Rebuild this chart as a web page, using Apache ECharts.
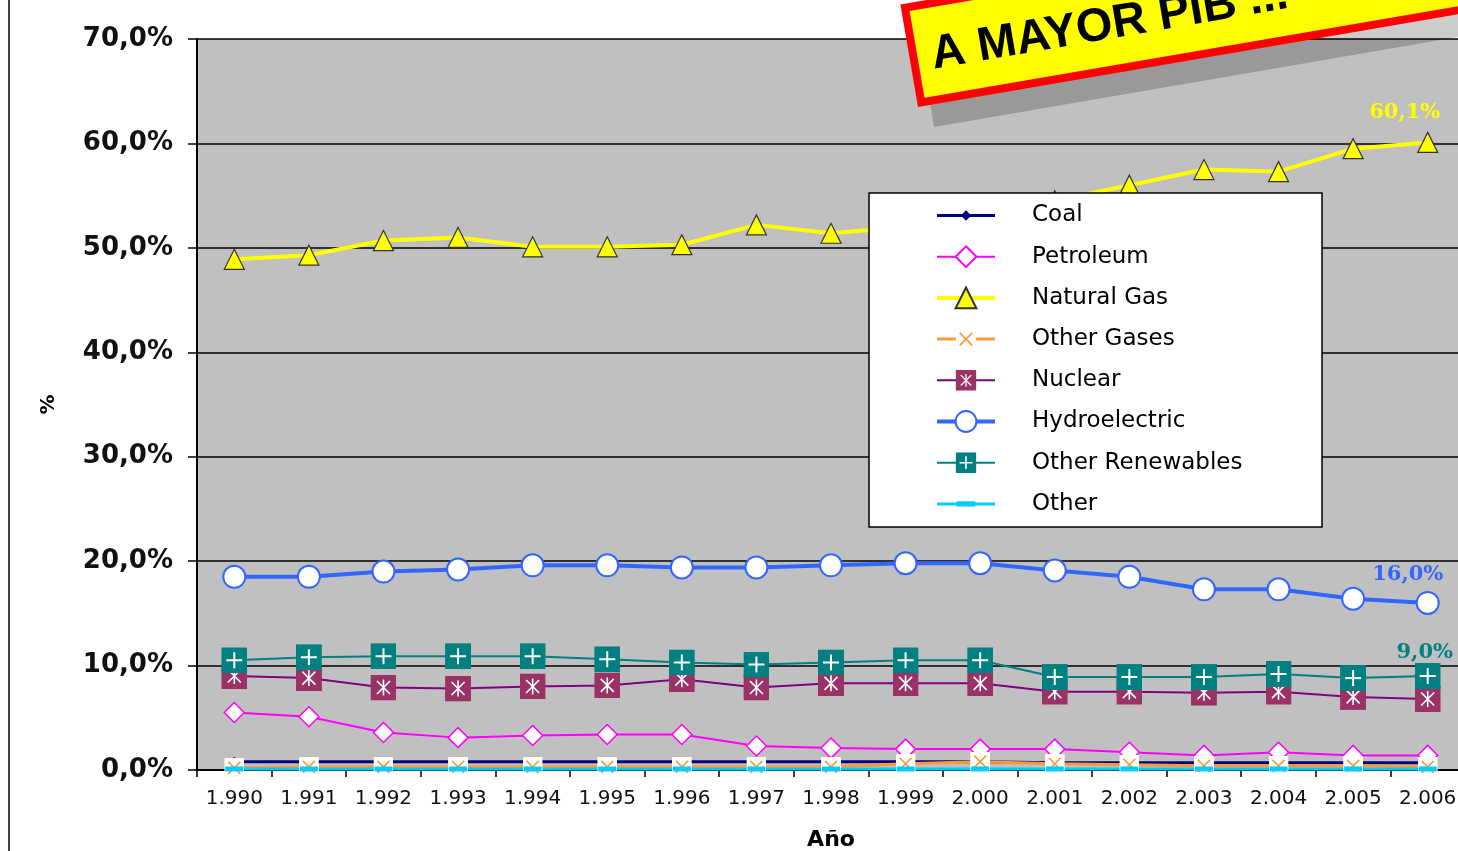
<!DOCTYPE html>
<html>
<head>
<meta charset="utf-8">
<title>Generación eléctrica por fuente</title>
<script src="https://cdn.jsdelivr.net/npm/echarts@6/dist/echarts.min.js"></script>
<style>
  html, body { margin: 0; padding: 0; background: #fff; }
  #chart { width: 1458px; height: 851px; }
</style>
</head>
<body>
<div id="chart"></div>
<script>
// categorias (años) y valores, en %
const years = ['1.990', '1.991', '1.992', '1.993', '1.994', '1.995', '1.996', '1.997', '1.998',
  '1.999', '2.000', '2.001', '2.002', '2.003', '2.004', '2.005', '2.006'];

const coal = [0.8, 0.8, 0.8, 0.8, 0.8, 0.8, 0.8, 0.8, 0.8, 0.8, 0.8, 0.7, 0.7, 0.7, 0.7, 0.7, 0.7];
const petroleum = [5.5, 5.1, 3.6, 3.1, 3.3, 3.4, 3.4, 2.3, 2.1, 2.0, 2.0, 2.0, 1.7, 1.4, 1.7, 1.4, 1.4];
const naturalGas = [48.9, 49.3, 50.7, 51.0, 50.1, 50.1, 50.3, 52.2, 51.4, 52.0, 53.5, 54.5, 56.0, 57.5, 57.3, 59.5, 60.1];
const otherGases = [0.2, 0.3, 0.3, 0.3, 0.3, 0.3, 0.3, 0.3, 0.3, 0.6, 0.8, 0.6, 0.5, 0.4, 0.4, 0.4, 0.3];
const nuclear = [9.0, 8.8, 7.9, 7.8, 8.0, 8.1, 8.7, 7.9, 8.3, 8.3, 8.3, 7.5, 7.5, 7.4, 7.5, 7.0, 6.8];
const hydroelectric = [18.5, 18.5, 19.0, 19.2, 19.6, 19.6, 19.4, 19.4, 19.6, 19.8, 19.8, 19.1, 18.5, 17.3, 17.3, 16.4, 16.0];
const otherRenewables = [10.5, 10.8, 10.9, 10.9, 10.9, 10.6, 10.3, 10.1, 10.3, 10.5, 10.5, 8.9, 8.9, 8.9, 9.2, 8.8, 9.0];
const other = [0.1, 0.1, 0.1, 0.1, 0.1, 0.1, 0.1, 0.1, 0.1, 0.1, 0.1, 0.1, 0.1, 0.1, 0.1, 0.1, 0.1];

const yMin = 0;
const yMax = 70;
const yStep = 10;

const pct = v => v.toFixed(1).replace('.', ',') + '%';

// marcadores estilo Excel
function svgSymbol(svg) {
  return 'image://data:image/svg+xml;charset=utf-8,' + encodeURIComponent(svg);
}
const NS = 'xmlns="http://www.w3.org/2000/svg"';
const coalSym = svgSymbol('<svg ' + NS + ' width="20" height="20" viewBox="0 0 20 20"><polygon points="10,5 15,10 10,15 5,10" fill="#000080"/></svg>');
const gasesSym = svgSymbol('<svg ' + NS + ' width="20" height="20" viewBox="0 0 20 20"><rect width="20" height="20" fill="#fff"/><g stroke="#ff9933" stroke-width="1.6"><line x1="4" y1="4" x2="16" y2="16"/><line x1="16" y1="4" x2="4" y2="16"/></g></svg>');
const nuclearSym = svgSymbol('<svg ' + NS + ' width="26" height="26" viewBox="0 0 26 26"><rect width="26" height="26" fill="#993366"/><g stroke="#fff" stroke-width="1.6"><line x1="13" y1="5" x2="13" y2="21"/><line x1="6.5" y1="6.5" x2="19.5" y2="19.5"/><line x1="19.5" y1="6.5" x2="6.5" y2="19.5"/></g></svg>');
const renewSym = svgSymbol('<svg ' + NS + ' width="26" height="26" viewBox="0 0 26 26"><rect width="26" height="26" fill="#008080"/><g stroke="#fff" stroke-width="2"><line x1="13" y1="5" x2="13" y2="21"/><line x1="5" y1="13" x2="21" y2="13"/></g></svg>');
const otherSym = svgSymbol('<svg ' + NS + ' width="20" height="20" viewBox="0 0 20 20"><rect x="1" y="7.5" width="18" height="5" fill="#00ccff"/></svg>');

function lastLabel(color, offset) {
  return {
    show: true,
    position: 'top',
    offset: offset,
    color: color,
    fontFamily: 'DejaVu Serif',
    fontWeight: 'bold',
    fontSize: 21,
    formatter: p => (p.dataIndex === years.length - 1 ? pct(p.value) : '')
  };
}

const chart = echarts.init(document.getElementById('chart'));

chart.setOption({
  backgroundColor: '#ffffff',
  animation: false,
  grid: {
    left: 197,
    top: 39,
    right: -7,
    bottom: 81,
    containLabel: false,
    outerBoundsMode: 'none',
    show: true,
    backgroundColor: '#c0c0c0',
    borderWidth: 0
  },
  legend: {
    orient: 'vertical',
    left: 935,
    top: 204,
    z: 11,
    padding: 0,
    itemWidth: 58,
    itemHeight: 26,
    itemGap: 18.2,
    lineStyle: { width: 'inherit' },
    textStyle: {
      fontFamily: 'DejaVu Sans',
      fontSize: 23,
      color: '#000',
      padding: [0, 0, 0, 32]
    },
    data: ['Coal', 'Petroleum', 'Natural Gas', 'Other Gases', 'Nuclear', 'Hydroelectric', 'Other Renewables', 'Other']
  },
  xAxis: {
    type: 'category',
    data: years,
    name: 'Año',
    nameLocation: 'middle',
    nameGap: 59,
    nameTextStyle: { fontFamily: 'DejaVu Sans', fontWeight: 'bold', fontSize: 22, color: '#000' },
    axisLine: { lineStyle: { color: '#000', width: 2 } },
    axisTick: { show: true, length: 7, lineStyle: { color: '#000', width: 1.5 } },
    axisLabel: { fontFamily: 'DejaVu Sans', fontSize: 20, color: '#111', margin: 19, interval: 0 }
  },
  yAxis: {
    type: 'value',
    min: yMin,
    max: yMax,
    interval: yStep,
    name: '%',
    nameLocation: 'middle',
    nameRotate: 90,
    nameGap: 138,
    nameTextStyle: { fontFamily: 'DejaVu Sans', fontWeight: 'bold', fontSize: 20, color: '#000' },
    axisLine: { show: true, lineStyle: { color: '#000', width: 2 } },
    axisTick: { show: true, length: 9, lineStyle: { color: '#000', width: 1.5 } },
    splitLine: { lineStyle: { color: '#000', width: 1.5 } },
    axisLabel: {
      fontFamily: 'DejaVu Sans',
      fontWeight: 'bold',
      fontSize: 26,
      color: '#111',
      margin: 24,
      formatter: v => pct(v)
    }
  },
  series: [
    {
      name: 'Coal', type: 'line', data: coal,
      symbol: coalSym, symbolSize: 20,
      lineStyle: { color: '#000080', width: 3 },
      itemStyle: { color: '#000080' }
    },
    {
      name: 'Petroleum', type: 'line', data: petroleum,
      symbol: 'diamond', symbolSize: 20,
      lineStyle: { color: '#ff00ff', width: 2 },
      itemStyle: { color: '#ffffff', borderColor: '#ff00ff', borderWidth: 1.5 }
    },
    {
      name: 'Natural Gas', type: 'line', data: naturalGas,
      symbol: 'triangle', symbolSize: [20, 20],
      lineStyle: { color: '#ffff00', width: 4 },
      itemStyle: { color: '#ffff00', borderColor: '#333', borderWidth: 1.2 },
      label: lastLabel('#ffff00', [-23, -4])
    },
    {
      name: 'Other Gases', type: 'line', data: otherGases,
      symbol: gasesSym, symbolSize: 20,
      lineStyle: { color: '#ff9933', width: 3 },
      itemStyle: { color: '#ff9933' }
    },
    {
      name: 'Nuclear', type: 'line', data: nuclear,
      symbol: nuclearSym, symbolSize: 26,
      lineStyle: { color: '#800080', width: 2 },
      itemStyle: { color: '#993366' }
    },
    {
      name: 'Hydroelectric', type: 'line', data: hydroelectric,
      symbol: 'circle', symbolSize: 22,
      lineStyle: { color: '#3366ff', width: 4 },
      itemStyle: { color: '#ffffff', borderColor: '#3366ff', borderWidth: 2 },
      label: lastLabel('#3366ff', [-20, -1])
    },
    {
      name: 'Other Renewables', type: 'line', data: otherRenewables,
      symbol: renewSym, symbolSize: 26,
      lineStyle: { color: '#008080', width: 2 },
      itemStyle: { color: '#008080' },
      label: lastLabel('#008080', [-3, 5])
    },
    {
      name: 'Other', type: 'line', data: other,
      symbol: otherSym, symbolSize: 20,
      lineStyle: { color: '#00ccff', width: 3 },
      itemStyle: { color: '#00ccff' }
    }
  ],
  graphic: [
    // borde izquierdo del area del grafico
    {
      type: 'line', z: 5,
      shape: { x1: 9, y1: 0, x2: 9, y2: 851 },
      style: { stroke: '#444', lineWidth: 2 }
    },
    // caja de la leyenda
    {
      type: 'rect', z: 10,
      shape: { x: 869, y: 193, width: 453, height: 334 },
      style: { fill: '#fff', stroke: '#000', lineWidth: 1.5 }
    },
    // sombra del cartel
    {
      type: 'rect', z: 19,
      x: 934, y: 127, rotation: 0.17,
      shape: { x: 0, y: -104, width: 700, height: 104 },
      style: { fill: 'rgba(0,0,0,0.2)' }
    },
    // cartel "A MAYOR PIB ..."
    {
      type: 'group', z: 20,
      x: 918, y: 107, rotation: 0.17,
      children: [
        {
          type: 'rect', z: 20,
          shape: { x: 4, y: -100, width: 700, height: 96 },
          style: { fill: '#ffff00', stroke: '#ff0000', lineWidth: 8 }
        },
        {
          type: 'text', z: 21,
          x: 22, y: -48,
          style: {
            text: 'A MAYOR PIB ...',
            fill: '#000',
            font: 'bold 47px "Liberation Sans", Arial, sans-serif',
            verticalAlign: 'middle'
          }
        }
      ]
    }
  ]
});
</script>
</body>
</html>
